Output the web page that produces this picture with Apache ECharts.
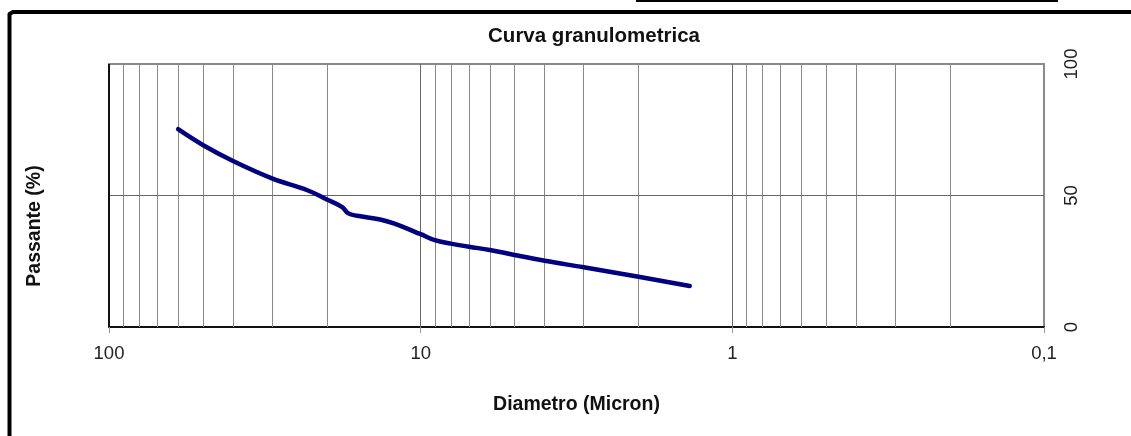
<!DOCTYPE html>
<html>
<head>
<meta charset="utf-8">
<script src="https://cdn.jsdelivr.net/npm/echarts@6/dist/echarts.min.js"></script>
<style>
  html, body { margin: 0; padding: 0; background: #fff; }
  #chart { width: 1131px; height: 436px; }
</style>
</head>
<body>
<div id="chart"></div>
<script>
// Grain size distribution: diameter (micron) vs. percent passing
const diameters = [60, 50, 40, 30, 23.2, 20, 17.9, 17.06, 16.0, 13.5, 12.2, 10.0, 9.0, 8.0, 7, 6, 5, 4, 3, 2, 1.37];
const passing   = [75.2, 69.2, 63.1, 56.5, 52.1, 48.5, 45.7, 43.2, 42.3, 40.9, 39.4, 35.3, 33.0, 31.7, 30.5, 29.3, 27.4, 25.2, 22.7, 19.1, 15.6];

// Decade lines and the intermediate lines of the log grid
const majorLines = [10, 1];
const minorLines = [90, 80, 70, 60, 50, 40, 30, 20,
                    9, 8, 7, 6, 5, 4, 3, 2,
                    0.9, 0.8, 0.7, 0.6, 0.5, 0.4, 0.3, 0.2];
const yTicks = [0, 50, 100];

const chart = echarts.init(document.getElementById('chart'), null, { renderer: 'canvas' });
const FONT = '"Liberation Sans", Arial, sans-serif';

const curve = diameters.map((d, i) => [d, passing[i]]);

const gridMarks = []
  .concat(minorLines.map(v => ({ xAxis: v, lineStyle: { color: '#8a8a8a', width: 1, type: 'solid' } })))
  .concat(majorLines.map(v => ({ xAxis: v, lineStyle: { color: '#666', width: 1, type: 'solid' } })))
  .concat([{ yAxis: 50, lineStyle: { color: '#666', width: 1, type: 'solid' } }])
  .concat([{ xAxis: 100, lineStyle: { color: '#111', width: 2, type: 'solid' } }]);

chart.setOption({
  animation: false,
  backgroundColor: '#fff',
  grid: {
    left: 109, right: 87, top: 64, bottom: 109,
    show: true, borderColor: '#8a8a8a', borderWidth: 2, backgroundColor: '#fff'
  },
  xAxis: {
    type: 'log',
    logBase: 10,
    min: 0.1,
    max: 100,
    inverse: true,
    name: 'Diametro (Micron)',
    nameLocation: 'middle',
    nameGap: 68,
    nameTextStyle: { fontFamily: FONT, fontSize: 19.5, fontWeight: 'bold', color: '#111' },
    axisLine: { show: true, lineStyle: { color: '#111', width: 2 } },
    axisTick: { show: true, length: 6, lineStyle: { color: '#999', width: 1 } },
    axisLabel: {
      fontFamily: FONT, fontSize: 18.5, color: '#222', margin: 17,
      formatter: v => String(parseFloat(Number(v).toPrecision(6))).replace('.', ',')
    },
    splitLine: { show: false },
    minorTick: { show: false },
    minorSplitLine: { show: false }
  },
  yAxis: {
    type: 'value',
    position: 'right',
    min: 0,
    max: 100,
    interval: 50,
    axisLine: { show: false },
    axisTick: { show: false },
    splitLine: { show: false },
    axisLabel: {
      rotate: 90, margin: 18,
      fontFamily: FONT, fontSize: 18.5, color: '#222',
      formatter: v => (yTicks.indexOf(v) >= 0 ? String(v) : '')
    }
  },
  graphic: [
    {
      type: 'text',
      x: 594, y: 36,
      style: {
        text: 'Curva granulometrica',
        font: 'bold 20.5px ' + FONT,
        fill: '#111',
        textAlign: 'center',
        textVerticalAlign: 'middle'
      }
    },
    {
      type: 'text',
      x: 35, y: 226,
      rotation: Math.PI / 2,
      style: {
        text: 'Passante (%)',
        font: 'bold 19.5px ' + FONT,
        fill: '#111',
        textAlign: 'center',
        textVerticalAlign: 'middle'
      }
    },
    // outer frame: left and top edges
    {
      type: 'polyline',
      shape: { points: [[9.5, 436], [9.5, 14], [13, 12], [1131, 12]] },
      style: { stroke: '#000', lineWidth: 4, fill: null, lineJoin: 'round' }
    },
    // small bar at the top
    {
      type: 'rect',
      shape: { x: 636, y: -2, width: 422, height: 4 },
      style: { fill: '#000' }
    }
  ],
  series: [
    {
      type: 'line',
      data: [],
      silent: true,
      z: 1,
      markLine: {
        silent: true,
        symbol: ['none', 'none'],
        label: { show: false },
        animation: false,
        data: gridMarks
      }
    },
    {
      type: 'line',
      data: curve,
      z: 5,
      smooth: 0.4,
      showSymbol: false,
      symbol: 'none',
      lineStyle: { color: '#000080', width: 4.5, cap: 'round', join: 'round' }
    }
  ]
});
</script>
</body>
</html>
